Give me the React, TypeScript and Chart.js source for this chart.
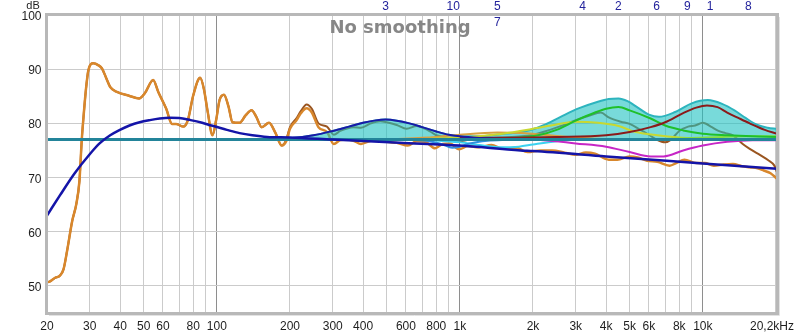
import React, { useEffect, useRef } from "react";
import { Chart, registerables } from "chart.js";

Chart.register(...registerables);

// ---- measurement (orange) ----
const MEAS_F = [20, 20.5, 21.6, 22.6, 23.4, 24.2, 25.4, 26.4, 27.2, 27.8, 28.2, 28.9, 29.6, 31.0, 32.6, 33.7, 35.1, 36.4, 38.8, 43.5, 47.9, 50.6, 54.7, 57.4, 61.9, 65.4, 68.0, 72.8, 76, 80, 85.4, 88.4, 91.5, 96, 99.6, 102.6, 107, 111.7, 116, 124, 131.5, 139, 145, 153, 164, 174, 185, 193, 200, 213, 222, 234, 246, 262, 284, 303, 322, 340, 365, 392, 430, 470, 500, 550, 611, 664, 720, 791, 850, 910, 993, 1080, 1200, 1350, 1500, 1700, 1900, 2150, 2400, 2700, 3000, 3300, 3600, 4100, 4450, 5000, 5400, 5900, 6500, 7300, 7800, 8400, 9400, 10200, 11100, 12200, 13300, 14500, 15600, 16800, 17800, 19000, 20200];
const MEAS_DB = [50.7, 50.8, 51.5, 51.9, 53.1, 56.5, 62.0, 65.1, 69.4, 76.9, 80.6, 86.1, 89.8, 91.1, 90.7, 90.1, 88.3, 86.7, 85.8, 85.1, 84.6, 85.6, 88.0, 85.8, 82.7, 79.9, 79.9, 79.4, 80.6, 85.2, 88.4, 86.4, 82.4, 77.8, 80.9, 84.3, 85.3, 83.1, 80.2, 80.1, 81.5, 82.4, 81.3, 79.3, 80.1, 78.3, 75.9, 76.7, 79.0, 80.6, 81.9, 82.8, 82.0, 79.3, 78.4, 76.2, 76.9, 77.0, 76.8, 76.2, 76.8, 77.0, 76.6, 76.4, 75.9, 76.7, 76.6, 75.4, 76.2, 76.3, 75.2, 75.8, 75.6, 76.0, 75.3, 75.5, 74.7, 75.0, 75.0, 74.6, 74.2, 74.6, 74.4, 73.3, 73.3, 73.9, 73.7, 73.1, 72.9, 72.2, 72.7, 73.3, 72.7, 72.7, 72.2, 72.4, 72.5, 72.1, 71.9, 71.7, 71.3, 70.8, 69.8];

// ---- predicted (brown, shows grey-green under the filter fill) ----
const PRED_F = [20, 20.5, 21.6, 22.6, 23.4, 24.2, 25.4, 26.4, 27.2, 27.8, 28.2, 28.9, 29.6, 31.0, 32.6, 33.7, 35.1, 36.4, 38.8, 43.5, 47.9, 50.6, 54.7, 57.4, 61.9, 65.4, 68.0, 72.8, 76, 80, 85.4, 88.4, 91.5, 96, 99.6, 102.6, 107, 111.7, 116, 124, 131.5, 139, 145, 153, 164, 174, 185, 193, 200, 213, 222, 234, 246, 262, 284, 303, 322, 340, 365, 392, 430, 470, 500, 550, 604, 664, 720, 755, 800, 860, 945, 1000, 1100, 1300, 1500, 1800, 2000, 2200, 2600, 3000, 3400, 3800, 4100, 4600, 5000, 5500, 6000, 6400, 7000, 7400, 8000, 8700, 9300, 10000, 10900, 11600, 12400, 13300, 14600, 15600, 17300, 18600, 19700, 20200];
const PRED_DB = [50.7, 50.8, 51.5, 51.9, 53.1, 56.5, 62.0, 65.1, 69.4, 76.9, 80.6, 86.1, 89.8, 91.1, 90.7, 90.1, 88.3, 86.7, 85.8, 85.1, 84.6, 85.6, 88.0, 85.8, 82.7, 79.9, 79.9, 79.4, 80.6, 85.2, 88.4, 86.4, 82.4, 77.8, 80.9, 84.3, 85.3, 83.1, 80.2, 80.1, 81.5, 82.4, 81.3, 79.3, 80.1, 78.3, 75.9, 77.0, 79.3, 81.0, 82.3, 83.5, 82.7, 80.0, 79.4, 77.9, 78.6, 79.0, 79.3, 79.2, 80.0, 80.4, 80.2, 79.7, 79.0, 79.5, 79.0, 78.5, 77.8, 77.5, 77.0, 76.7, 77.0, 77.3, 77.4, 77.6, 77.9, 78.4, 79.5, 80.6, 81.4, 82.0, 81.1, 80.3, 79.9, 78.9, 77.9, 77.1, 76.5, 77.0, 78.6, 79.4, 79.6, 80.1, 79.3, 78.6, 78.2, 77.8, 76.2, 75.3, 74.1, 73.2, 72.2, 71.0];

// ---- target (navy) ----
const TARGET_F = [20, 22.6, 26.0, 30.1, 33.0, 36.4, 39.9, 43.7, 48.1, 53, 58.2, 64, 70, 78, 87, 95, 110, 124, 140, 161, 200, 300, 565, 1000, 1780, 2000, 4000, 10000, 20200];
const TARGET_DB = [63.0, 66.7, 70.8, 74.4, 76.35, 77.8, 78.8, 79.6, 80.2, 80.6, 80.9, 81.05, 81.0, 80.6, 80.1, 79.6, 78.8, 78.2, 77.8, 77.5, 77.4, 77.0, 76.4, 75.9, 75.0, 74.9, 73.9, 72.6, 71.6];

// ---- EQ baseline ----
const BASE_F = [20, 20200];
const BASE_DB = [77, 77];

// ---- combined filter response (filled) ----
const SUM_F = [20, 150, 200, 250, 300, 350, 400, 450, 495, 550, 620, 700, 800, 900, 1000, 1200, 1470, 1780, 2000, 2200, 2600, 3100, 3700, 4100, 4500, 4900, 5400, 6000, 6600, 7700, 9000, 10500, 12000, 13500, 15000, 16800, 18500, 20200];
const SUM_DB = [77.0, 77.0, 77.25, 77.8, 78.6, 79.4, 80.1, 80.55, 80.7, 80.5, 80.0, 79.3, 78.5, 77.9, 77.6, 77.6, 78.0, 78.4, 78.9, 79.6, 81.2, 82.8, 84.0, 84.5, 84.6, 84.1, 82.9, 81.6, 81.2, 82.1, 83.7, 84.3, 83.6, 82.4, 81.0, 79.7, 79.2, 79.0];

// ---- individual filters ----
const F3_F = [150, 200, 250, 300, 350, 400, 450, 495, 550, 620, 700, 800, 900, 1000, 1200, 1500, 2000];
const F3_DB = [77.0, 77.25, 77.8, 78.6, 79.4, 80.1, 80.55, 80.7, 80.5, 80.0, 79.3, 78.5, 77.9, 77.6, 77.3, 77.1, 77.0];
const F10_F = [600, 750, 850, 930, 1000, 1100, 1300, 1600];
const F10_DB = [77.0, 76.7, 76.1, 75.5, 75.7, 76.3, 76.8, 77.0];
const F7_F = [700, 1000, 1200, 1450, 1750, 2000, 2500, 3000];
const F7_DB = [77.0, 76.5, 76.0, 75.6, 75.7, 76.1, 76.7, 77.0];
const F5_F = [500, 800, 1000, 1430, 1800, 2200, 2800, 3500, 5000];
const F5_DB = [77.0, 77.5, 77.9, 78.3, 78.2, 77.9, 77.5, 77.2, 77.0];
const F4_F = [700, 1000, 1500, 2000, 2500, 3000, 3700, 4500, 5200, 6500, 8000, 10000, 14000];
const F4_DB = [77.1, 77.4, 78.1, 79.0, 79.8, 80.3, 80.1, 79.5, 78.5, 77.8, 77.4, 77.2, 77.0];
const F2_F = [1500, 2100, 2500, 3000, 3600, 4000, 4500, 5000, 6100, 7000, 8300, 10000, 12600, 16000, 20200];
const F2_DB = [77.1, 77.8, 78.8, 80.5, 82.0, 82.7, 83.0, 82.4, 80.9, 79.6, 78.7, 78.1, 77.8, 77.6, 77.5];
const F1_F = [1000, 2500, 4000, 5000, 6100, 7000, 8300, 9400, 10400, 11500, 12600, 14000, 15600, 18000, 20200];
const F1_DB = [77.3, 77.5, 77.8, 78.4, 79.3, 80.2, 81.9, 82.9, 83.3, 83.0, 82.0, 81.0, 80.0, 78.8, 78.1];
const F6_F = [1000, 2200, 3000, 4000, 5000, 6100, 6900, 8300, 10000, 12600, 16000, 20200];
const F6_DB = [77.2, 76.9, 76.3, 75.7, 74.7, 73.9, 73.9, 75.0, 75.9, 76.6, 76.9, 76.9];
const F8_F = [6000, 9000, 12000, 15400, 20200];
const F8_DB = [77.0, 77.3, 77.5, 77.6, 77.6];

// ---- axes ----
const X_GRID = [20, 30, 40, 50, 60, 70, 80, 90, 100, 200, 300, 400, 500, 600, 700, 800, 900, 1000, 2000, 3000, 4000, 5000, 6000, 7000, 8000, 9000, 10000, 20000];
const X_MAJOR = [100, 1000, 10000];
const X_LABEL_VALUES = [20, 30, 40, 50, 60, 80, 100, 200, 300, 400, 600, 800, 1000, 2000, 3000, 4000, 5000, 6000, 8000, 10000, 20200];
const X_LABEL_TEXT = ["20", "30", "40", "50", "60", "80", "100", "200", "300", "400", "600", "800", "1k", "2k", "3k", "4k", "5k", "6k", "8k", "10k", "20,2kHz"];
const Y_TICKS = [50, 60, 70, 80, 90, 100];

// ---- filter number markers ----
const FILTER_NAMES = ["3", "10", "5", "7", "4", "2", "6", "9", "1", "8"];
const FILTER_FREQS = [495, 940, 1428, 1428, 3204, 4489, 6456, 8630, 10704, 15384];
const FILTER_ROWS = [0, 0, 0, 1, 0, 0, 0, 0, 0, 0];

const TITLE = "No smoothing";

function pts(f: number[], v: number[]) {
  return f.map((x, i) => ({ x, y: v[i] }));
}

function line(label: string, f: number[], v: number[], color: string, width: number, order: number, extra: any = {}) {
  return {
    label,
    data: pts(f, v),
    borderColor: color,
    backgroundColor: color,
    borderWidth: width,
    pointRadius: 0,
    fill: false,
    cubicInterpolationMode: "monotone",
    order,
    ...extra,
  };
}

export default function App() {
  const ref = useRef<HTMLCanvasElement>(null);

  useEffect(() => {
    if (!ref.current) return;
    const FONT = '12px "Liberation Sans", Arial, sans-serif';

    const overlay = {
      id: "overlay",
      afterDraw(chart: any) {
        const ctx = chart.ctx;
        const a = chart.chartArea;
        const xs = chart.scales.x;
        const ys = chart.scales.y;
        ctx.save();
        // frame
        ctx.strokeStyle = "#e2e2e2";
        ctx.lineWidth = 1;
        ctx.beginPath();
        ctx.moveTo(a.right + 2.5, a.top + 2);
        ctx.lineTo(a.right + 2.5, a.bottom + 2.5);
        ctx.lineTo(a.left + 2, a.bottom + 2.5);
        ctx.stroke();
        ctx.strokeStyle = "#b8b8b8";
        ctx.lineWidth = 3;
        ctx.strokeRect(a.left - 0.5, a.top - 0.5, a.right - a.left + 1, a.bottom - a.top + 1);

        // x labels
        ctx.font = FONT;
        ctx.fillStyle = "#1e1e1e";
        ctx.textBaseline = "alphabetic";
        ctx.textAlign = "center";
        X_LABEL_VALUES.forEach((v, i) => {
          let px = xs.getPixelForValue(v);
          if (i === X_LABEL_VALUES.length - 1) px -= 5;
          ctx.fillText(X_LABEL_TEXT[i], px, 330);
        });
        // y labels
        ctx.textAlign = "right";
        Y_TICKS.forEach((v) => {
          ctx.fillText(String(v), 41.5, ys.getPixelForValue(v) + 5);
        });
        ctx.font = '11px "Liberation Sans", Arial, sans-serif';
        ctx.textAlign = "center";
        ctx.fillText("dB", 33, 8.5);

        // filter numbers
        ctx.font = FONT;
        ctx.fillStyle = "#23239c";
        FILTER_NAMES.forEach((n, i) => {
          const px = xs.getPixelForValue(FILTER_FREQS[i]);
          ctx.fillText(n, px, FILTER_ROWS[i] === 0 ? 10 : 26);
        });

        // title
        ctx.font = 'bold 18px "DejaVu Sans", Verdana, sans-serif';
        ctx.fillStyle = "#878787";
        ctx.textAlign = "center";
        ctx.fillText(TITLE, 400, 33);
        ctx.restore();
      },
    };

    const chart = new Chart(ref.current, {
      type: "line",
      data: {
        datasets: [
          line("Target", TARGET_F, TARGET_DB, "#1414a8", 2.5, 0),
          line("Baseline", BASE_F, BASE_DB, "#23849a", 3, 1),
          line("Filter 3", F3_F, F3_DB, "#1a1aa6", 2, 2),
          line("Filter 1", F1_F, F1_DB, "#8b1a1a", 2, 3),
          line("Filter 2", F2_F, F2_DB, "#1fc02a", 2, 4),
          line("Filter 8", F8_F, F8_DB, "#84e040", 2, 5),
          line("Filter 6", F6_F, F6_DB, "#c626c6", 2, 6),
          line("Filter 10", F10_F, F10_DB, "#2f8fe0", 2, 7),
          line("Filter 7", F7_F, F7_DB, "#3cd2f0", 2, 8),
          line("Filter 4", F4_F, F4_DB, "#c8d830", 2, 9),
          line("Filter 5", F5_F, F5_DB, "#d8a040", 2, 10),
          line("EQ total", SUM_F, SUM_DB, "#2db4be", 2, 11, {
            fill: { value: 77 },
            backgroundColor: "rgba(30,193,193,0.6)",
          }),
          line("Measurement", MEAS_F, MEAS_DB, "#d8872c", 2.5, 12),
          line("Predicted", PRED_F, PRED_DB, "#9a5520", 2, 13),
        ] as any,
      },
      options: {
        animation: false,
        responsive: false,
        events: [],
        layout: { padding: { top: 15, right: 23, left: 0, bottom: 0 } },
        plugins: {
          legend: { display: false },
          tooltip: { enabled: false },
          title: { display: false },
        },
        scales: {
          x: {
            type: "logarithmic",
            min: 20,
            max: 20200,
            afterBuildTicks: (s: any) => {
              s.ticks = X_GRID.map((v) => ({ value: v }));
            },
            afterFit: (s: any) => {
              s.height = 21;
            },
            ticks: { display: false },
            grid: {
              drawTicks: false,
              lineWidth: 1,
              color: (c: any) => (c.tick && X_MAJOR.includes(c.tick.value) ? "#8e8e8e" : "#cbcbcb"),
            },
            border: { display: false },
          },
          y: {
            type: "linear",
            min: 45,
            max: 100,
            afterBuildTicks: (s: any) => {
              s.ticks = Y_TICKS.map((v) => ({ value: v }));
            },
            afterFit: (s: any) => {
              s.width = 47;
            },
            ticks: { display: false },
            grid: { drawTicks: false, color: "#cbcbcb", lineWidth: 1 },
            border: { display: false },
          },
        },
      } as any,
      plugins: [overlay],
    });
    return () => chart.destroy();
  }, []);

  return (
    <div style={{ position: "absolute", left: 0, top: 0, width: 800, height: 334, background: "#fff" }}>
      <canvas ref={ref} width={800} height={334} style={{ display: "block" }} />
    </div>
  );
}
